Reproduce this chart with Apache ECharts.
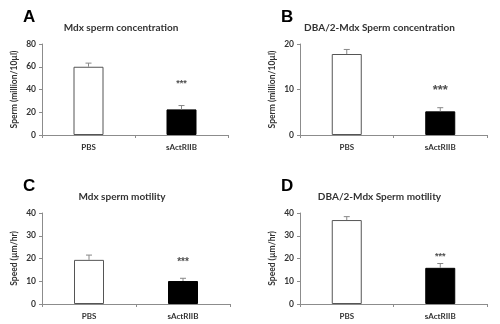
<!DOCTYPE html>
<html>
<head>
<meta charset="utf-8">
<script src="https://cdn.jsdelivr.net/npm/echarts@6/dist/echarts.min.js"></script>
<style>
  html, body { margin: 0; padding: 0; background: #fff; }
  #container { width: 500px; height: 324px; }
</style>
</head>
<body>
<div id="container"></div>
<script>
// data
let groups = ['PBS', 'sActRIIB'];
let panelLetters = ['A', 'B', 'C', 'D'];
let panelTitles = [
  'Mdx sperm concentration',
  'DBA/2-Mdx Sperm concentration',
  'Mdx sperm motility',
  'DBA/2-Mdx Sperm motility',
];
let yNames = ['Sperm (million/10\u00b5l)', 'Sperm (million/10\u00b5l)', 'Speed (\u00b5m/hr)', 'Speed (\u00b5m/hr)'];
let yMax = [80, 20, 40, 40];
let yStep = [20, 10, 10, 10];
let means = [
  [60, 22.5],
  [17.8, 5.2],
  [19.4, 10.1],
  [36.9, 15.9],
];
let errs = [
  [3.2, 3.4],
  [1.0, 0.8],
  [2.1, 1.2],
  [1.5, 1.9],
];
// y position of the significance stars (in axis units)
let starY = [
  [null, 45],
  [null, 9.8],
  [null, 18.4],
  [null, 20.9],
];
let starFont = [9, 13, 10, 9];

let grids = [
  { left: 42, top: 44, width: 186, height: 91 },
  { left: 300, top: 44, width: 187, height: 91 },
  { left: 42, top: 213, width: 188, height: 91 },
  { left: 300, top: 213, width: 187, height: 91 },
];

let fontFam = 'Lato, "Open Sans", sans-serif';
let axisGrey = '#8c8c8c';

let xAxis = [];
let yAxis = [];
let series = [];
let graphic = [];

for (let i = 0; i < 4; i++) {
  xAxis.push({
    type: 'category',
    gridIndex: i,
    data: groups,
    axisLine: { lineStyle: { color: axisGrey, width: 1 } },
    axisTick: { show: true, length: 3, lineStyle: { color: axisGrey } },
    axisLabel: { color: '#333', fontSize: 8, fontWeight: 'bold', fontFamily: fontFam, margin: 8 },
  });
  yAxis.push({
    type: 'value',
    gridIndex: i,
    min: 0,
    max: yMax[i],
    interval: yStep[i],
    name: yNames[i],
    nameLocation: 'middle',
    nameGap: 23,
    nameTextStyle: { color: '#333', fontSize: 8.5, fontWeight: 'bold', fontFamily: fontFam },
    splitLine: { show: false },
    axisLine: { show: true, lineStyle: { color: axisGrey, width: 1 } },
    axisTick: { show: true, length: 3, lineStyle: { color: axisGrey } },
    axisLabel: { color: '#333', fontSize: 8.5, fontWeight: 'bold', fontFamily: fontFam, margin: 6 },
  });

  series.push({
    type: 'bar',
    xAxisIndex: i,
    yAxisIndex: i,
    barWidth: 30,
    data: means[i].map((v, k) => ({
      value: v,
      itemStyle: k === 0
        ? { color: '#fff', borderColor: '#555', borderWidth: 1 }
        : { color: '#000', borderColor: '#000', borderWidth: 1 },
    })),
    silent: true,
    z: 2,
  });

  // error bars: upward whisker with a small cap
  series.push({
    type: 'custom',
    xAxisIndex: i,
    yAxisIndex: i,
    data: means[i].map((v, k) => [k, v, v + errs[i][k]]),
    renderItem: function (params, api) {
      let base = api.coord([api.value(0), api.value(1)]);
      let top = api.coord([api.value(0), api.value(2)]);
      let style = { stroke: '#888', lineWidth: 1 };
      return {
        type: 'group',
        children: [
          { type: 'line', shape: { x1: base[0], y1: base[1], x2: top[0], y2: top[1] }, style: style },
          { type: 'line', shape: { x1: top[0] - 3, y1: top[1], x2: top[0] + 3, y2: top[1] }, style: style },
        ],
      };
    },
    silent: true,
    z: 3,
  });

  // significance stars
  series.push({
    type: 'scatter',
    xAxisIndex: i,
    yAxisIndex: i,
    symbolSize: 0,
    data: starY[i].map((v, k) => (v === null ? [k, null] : [k, v])),
    label: {
      show: true,
      position: 'inside',
      formatter: '***',
      color: '#222',
      fontSize: starFont[i],
      fontWeight: 'bold',
      fontFamily: 'Arial, sans-serif',
    },
    silent: true,
  });

  let g = grids[i];
  graphic.push({
    type: 'text',
    left: g.left - 19,
    top: g.top - 35,
    style: { text: panelLetters[i], fontSize: 17, fontWeight: 'bold', fontFamily: 'Arial, sans-serif', fill: '#000' },
  });
  graphic.push({
    type: 'text',
    x: g.left + g.width / 2 - 14,
    y: g.top - 16,
    style: {
      text: panelTitles[i],
      fontSize: 10,
      fontWeight: 'bold',
      fontFamily: fontFam,
      fill: '#333',
      textAlign: 'center',
      textVerticalAlign: 'middle',
    },
  });
}

let graph = echarts.init(document.getElementById('container'));
let option = {
  animation: false,
  backgroundColor: '#fff',
  grid: grids,
  xAxis: xAxis,
  yAxis: yAxis,
  series: series,
  graphic: graphic,
};
graph.setOption(option);
</script>
</body>
</html>
